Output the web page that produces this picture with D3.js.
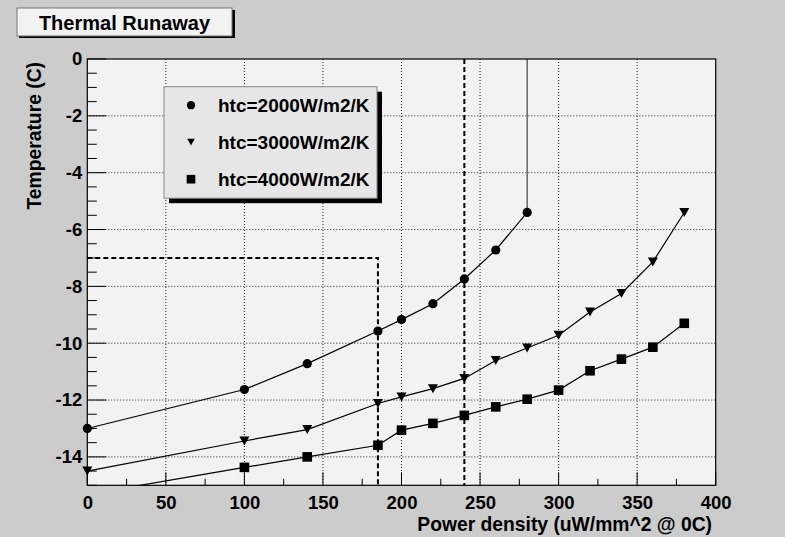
<!DOCTYPE html>
<html><head><meta charset="utf-8">
<script src="https://cdn.jsdelivr.net/npm/d3@7"></script>
<style>body{margin:0;background:#cccccc;} svg{display:block;} text{font-family:"Liberation Sans",Arial,Helvetica,sans-serif;font-weight:bold;}</style>
</head><body>
<svg id="c" width="785" height="537"></svg>
<script>
const title = "Thermal Runaway";
const xTitle = "Power density (uW/mm^2 @ 0C)";
const yTitle = "Temperature (C)";
const seriesNames = ["htc=2000W/m2/K","htc=3000W/m2/K","htc=4000W/m2/K"];
const xTicks = [0,50,100,150,200,250,300,350,400];
const yTicks = [0,-2,-4,-6,-8,-10,-12,-14];
const x2000 = [0,100,140,185,200,220,240,260,280];
const y2000 = [-13.0,-11.63,-10.72,-9.57,-9.17,-8.61,-7.74,-6.72,-5.40];
const x3000 = [0,100,140,185,200,220,240,260,280,300,320,340,360,380];
const y3000 = [-14.5,-13.44,-13.04,-12.12,-11.89,-11.6,-11.24,-10.61,-10.17,-9.72,-8.90,-8.25,-7.14,-5.40];
const x4000 = [0,100,140,185,200,220,240,260,280,300,320,340,360,380];
const y4000 = [-15.32,-14.37,-14.0,-13.59,-13.06,-12.82,-12.54,-12.24,-11.97,-11.65,-10.97,-10.56,-10.14,-9.30];
const limitT = -7;       // horizontal dashed limit
const limitP1 = 185;     // vertical dashed
const limitP2 = 240;     // vertical dashed
const runawayP = 280;    // runaway line

const svg = d3.select("#c");
const L=87.3, R=715.7, T=59, B=485.3;
const x = d3.scaleLinear().domain([0,400]).range([L,R]);
const y = d3.scaleLinear().domain([-15,0]).range([B,T]);

svg.append("rect").attr("width",785).attr("height",537).attr("fill","#cccccc");
svg.append("defs").append("clipPath").attr("id","clip").append("rect")
  .attr("x",L).attr("y",T).attr("width",R-L).attr("height",B-T);
svg.append("rect").attr("x",L).attr("y",T).attr("width",R-L).attr("height",B-T).attr("fill","#f2f2f2");

// grid
const g = svg.append("g");
xTicks.filter(v=>v>0&&v<400).forEach(v=>{
  g.append("line").attr("x1",x(v)).attr("x2",x(v)).attr("y1",T).attr("y2",B)
   .attr("stroke","#222").attr("stroke-width",1).attr("stroke-dasharray","1,2");
});
yTicks.filter(v=>v<0).forEach(v=>{
  g.append("line").attr("x1",L).attr("x2",R).attr("y1",y(v)).attr("y2",y(v))
   .attr("stroke","#222").attr("stroke-width",1).attr("stroke-dasharray","1,2");
});

// axes
const fmt = d=>String(d);
const xAxis = d3.axisBottom(x).tickValues(xTicks).tickSize(0).tickPadding(11).tickFormat(fmt);
const ga = svg.append("g").attr("transform",`translate(0,${B})`).call(xAxis);
ga.select(".domain").remove();
ga.selectAll("text").attr("font-size",18.5).attr("fill","#000");
const xMinor = d3.range(0,401,25);
xMinor.forEach(v=>{
  const len = (v%50===0)?13:6.5;
  svg.append("line").attr("x1",x(v)).attr("x2",x(v)).attr("y1",B).attr("y2",B-len).attr("stroke","#000");
});
const yAxis = d3.axisLeft(y).tickValues(yTicks).tickSize(0).tickPadding(5).tickFormat(fmt);
const gy = svg.append("g").attr("transform",`translate(${L},0)`).call(yAxis);
gy.select(".domain").remove();
gy.selectAll("text").attr("font-size",18.5).attr("fill","#000");
d3.range(0,31).map(i=>-i*0.5).forEach(v=>{
  const len = (Math.abs(v)%2===0)?19:9.5;
  svg.append("line").attr("x1",L).attr("x2",L+len).attr("y1",y(v)).attr("y2",y(v)).attr("stroke","#000");
});

// dashed limits
const dl = svg.append("g").attr("stroke","#000").attr("stroke-width",2).attr("stroke-dasharray","5,3").attr("fill","none");
dl.append("path").attr("d",d3.line()([[x(0),y(limitT)],[x(limitP1),y(limitT)],[x(limitP1),y(-15)]]));
dl.append("line").attr("x1",x(limitP2)).attr("x2",x(limitP2)).attr("y1",y(0)).attr("y2",y(-15));

// runaway line
svg.append("line").attr("x1",x(runawayP)).attr("x2",x(runawayP)).attr("y1",y(0)).attr("y2",y(y2000[y2000.length-1]))
  .attr("stroke","#666").attr("stroke-width",1.5);

// frame
svg.append("rect").attr("x",L).attr("y",T).attr("width",R-L).attr("height",B-T).attr("fill","none").attr("stroke","#000").attr("stroke-width",1.2);

const line = d3.line().x(d=>x(d[0])).y(d=>y(d[1]));
const series = [
  {xs:x2000, ys:y2000, m:"circle"},
  {xs:x3000, ys:y3000, m:"tri"},
  {xs:x4000, ys:y4000, m:"square"}
];
function marker(sel, type, cx, cy, s){
  if(type==="circle") sel.append("circle").attr("cx",cx).attr("cy",cy).attr("r",4.6*s).attr("fill","#000");
  else if(type==="tri") sel.append("path").attr("d",`M${cx-5*s},${cy-4.5*s}L${cx+5*s},${cy-4.5*s}L${cx},${cy+4.5*s}Z`).attr("fill","#000");
  else sel.append("rect").attr("x",cx-4.8*s).attr("y",cy-4.8*s).attr("width",9.6*s).attr("height",9.6*s).attr("fill","#000");
}
const pg = svg.append("g").attr("clip-path","url(#clip)");
const mg = svg.append("g");
series.forEach(s=>{
  const pts = s.xs.map((v,i)=>[v,s.ys[i]]);
  pg.append("path").attr("d",line(pts)).attr("fill","none").attr("stroke","#000").attr("stroke-width",1.2);
  pts.filter(p=>p[1]>=-15 && p[1]<=0).forEach(p=>marker(mg, s.m, x(p[0]), y(p[1]), 1));
});

// legend
const lx=164, ly=86.7, lw=213, lh=111.5;
svg.append("rect").attr("x",lx+5).attr("y",ly+5).attr("width",lw).attr("height",lh).attr("fill","#000");
svg.append("rect").attr("x",lx).attr("y",ly).attr("width",lw).attr("height",lh).attr("fill","#e6e6e6").attr("stroke","#888").attr("stroke-width",1);
seriesNames.forEach((n,i)=>{
  const cy = ly + 18.5 + i*37;
  marker(svg, series[i].m, 191, cy, i===1?0.75:0.9);
  svg.append("text").attr("x",218).attr("y",cy).attr("dy","0.35em").attr("font-size",19).attr("fill","#000").text(n);
});

// title box
svg.append("rect").attr("x",19).attr("y",10).attr("width",216).attr("height",28).attr("fill","#000");
svg.append("rect").attr("x",17).attr("y",8).attr("width",215).attr("height",28).attr("fill","#f2f2f2").attr("stroke","#777").attr("stroke-width",1);
svg.append("text").attr("x",124.5).attr("y",29.5).attr("text-anchor","middle").attr("font-size",20).attr("fill","#000").text(title);

// axis titles
svg.append("text").attr("x",712).attr("y",530.5).attr("text-anchor","end").attr("font-size",19.3).attr("fill","#000").text(xTitle);
svg.append("text").attr("transform","translate(41,62) rotate(-90)").attr("text-anchor","end").attr("font-size",19.3).attr("fill","#000").text(yTitle);
</script>
</body></html>
